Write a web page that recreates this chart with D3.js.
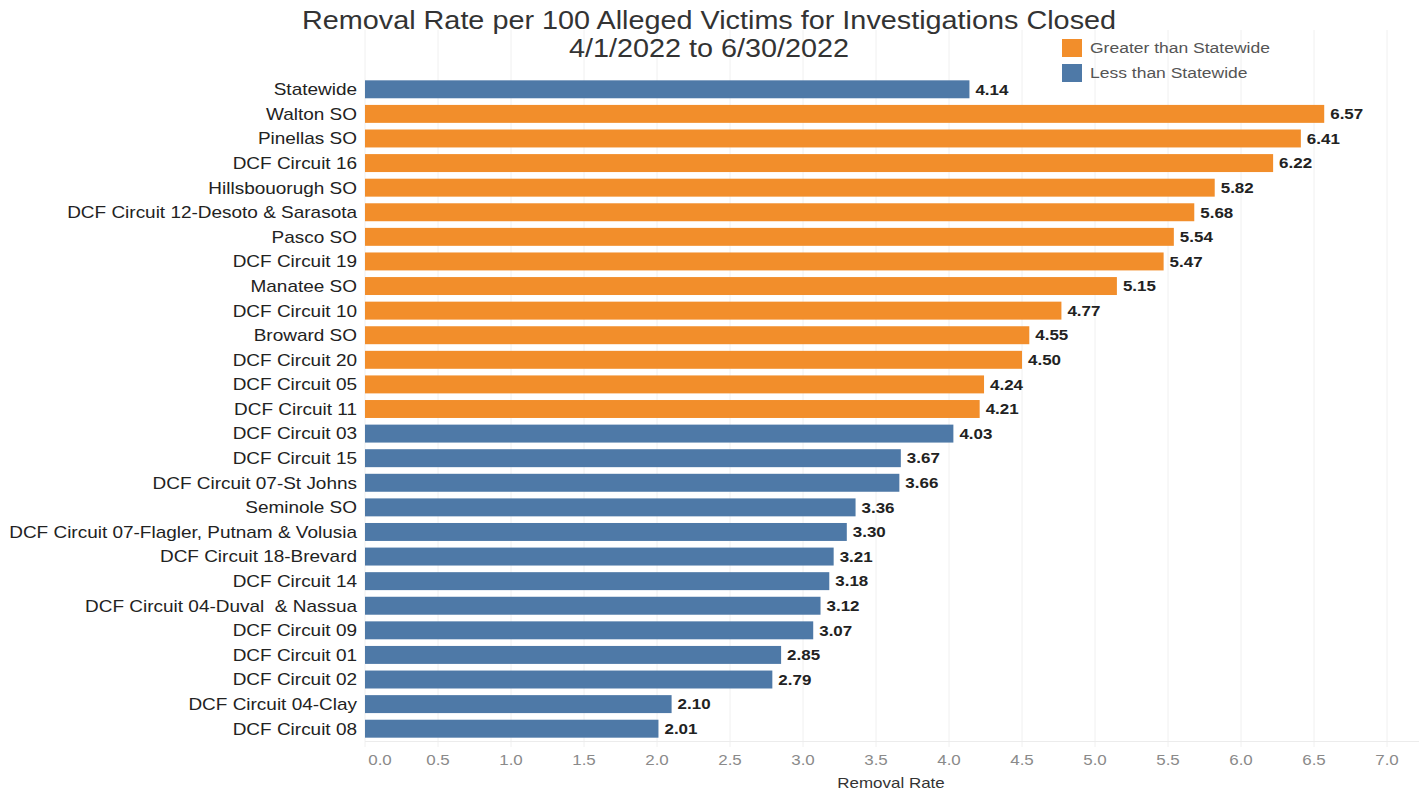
<!DOCTYPE html>
<meta charset="utf-8">
<script src="https://d3js.org/d3.v7.js"></script>
<style>
  body { margin: 0; background: #fff; }
  text { font-family: "Liberation Sans", Arial, sans-serif; white-space: pre; }
</style>
<div id="my_dataviz"></div>
<script>

// data
const categories = ["Statewide", "Walton SO", "Pinellas SO", "DCF Circuit 16", "Hillsbouorugh SO",
  "DCF Circuit 12-Desoto & Sarasota", "Pasco SO", "DCF Circuit 19", "Manatee SO", "DCF Circuit 10",
  "Broward SO", "DCF Circuit 20", "DCF Circuit 05", "DCF Circuit 11", "DCF Circuit 03", "DCF Circuit 15",
  "DCF Circuit 07-St Johns", "Seminole SO", "DCF Circuit 07-Flagler, Putnam & Volusia",
  "DCF Circuit 18-Brevard", "DCF Circuit 14", "DCF Circuit 04-Duval  & Nassua", "DCF Circuit 09",
  "DCF Circuit 01", "DCF Circuit 02", "DCF Circuit 04-Clay", "DCF Circuit 08"];
const rates = [4.14, 6.57, 6.41, 6.22, 5.82, 5.68, 5.54, 5.47, 5.15, 4.77, 4.55, 4.50, 4.24, 4.21,
  4.03, 3.67, 3.66, 3.36, 3.30, 3.21, 3.18, 3.12, 3.07, 2.85, 2.79, 2.10, 2.01];
const groups = ["Greater than Statewide", "Less than Statewide"];
const tickValues = [0, 0.5, 1, 1.5, 2, 2.5, 3, 3.5, 4, 4.5, 5, 5.5, 6, 6.5, 7];

const statewide = rates[0];
const data = categories.map((c, i) => ({
  name: c,
  value: rates[i],
  group: (i > 0 && rates[i] > statewide) ? groups[0] : groups[1]
}));

const width = 1427, height = 790;
const margin = {top: 77, right: 40, bottom: 49, left: 365};

// the source picture has its text a bit stretched sideways
const sx = 1.13;
const place = (px, py) => `translate(${px},${py}) scale(${sx},1)`;

const svg = d3.select("#my_dataviz")
  .append("svg")
  .attr("width", width)
  .attr("height", height);

const x = d3.scaleLinear()
  .domain([0, 7])
  .range([margin.left, margin.left + 146 * 7]);

const y = d3.scaleBand()
  .domain(categories)
  .range([margin.top, height - margin.bottom])
  .paddingInner(0.27)
  .paddingOuter(0.135);

const colour = d3.scaleOrdinal()
  .domain(groups)
  .range(["#F28E2B", "#4E79A7"]);

// gridlines
svg.append("g")
  .selectAll("line")
  .data(tickValues)
  .join("line")
    .attr("x1", d => x(d))
    .attr("x2", d => x(d))
    .attr("y1", 30)
    .attr("y2", height - margin.bottom + 6)
    .attr("stroke", "#f0f0f0")
    .attr("stroke-width", 1);

// axis baseline
svg.append("line")
  .attr("x1", margin.left)
  .attr("x2", width - 8)
  .attr("y1", height - margin.bottom + 0.5)
  .attr("y2", height - margin.bottom + 0.5)
  .attr("stroke", "#ececec");

// tick labels
svg.append("g")
  .selectAll("text")
  .data(tickValues)
  .join("text")
    .attr("transform", d => place(d === 0 ? x(d) + 15 : x(d), height - margin.bottom + 24))
    .attr("text-anchor", "middle")
    .style("font-size", "15px")
    .attr("fill", "#8a8a8a")
    .text(d => d3.format(".1f")(d));

// axis title
svg.append("text")
  .attr("transform", place(891, 788))
  .attr("text-anchor", "middle")
  .style("font-size", "15px")
  .attr("fill", "#333")
  .text("Removal Rate");

// bars
svg.append("g")
  .selectAll("rect")
  .data(data)
  .join("rect")
    .attr("x", x(0))
    .attr("y", d => y(d.name))
    .attr("width", d => x(d.value) - x(0))
    .attr("height", y.bandwidth())
    .attr("fill", d => colour(d.group));

// value labels
svg.append("g")
  .selectAll("text")
  .data(data)
  .join("text")
    .attr("transform", d => place(x(d.value) + 6, y(d.name) + y.bandwidth() / 2))
    .attr("dy", "0.35em")
    .style("font-size", "15px")
    .style("font-weight", "bold")
    .attr("fill", "#222")
    .text(d => d3.format(".2f")(d.value));

// category labels
svg.append("g")
  .selectAll("text")
  .data(data)
  .join("text")
    .attr("transform", d => place(margin.left - 8, y(d.name) + y.bandwidth() / 2))
    .attr("dy", "0.35em")
    .attr("text-anchor", "end")
    .style("font-size", "16.8px")
    .attr("fill", "#222")
    .text(d => d.name);

// title
const title = svg.append("g")
  .attr("text-anchor", "middle")
  .style("font-size", "25.5px")
  .attr("fill", "#333");
title.append("text").attr("transform", place(709, 29))
  .text("Removal Rate per 100 Alleged Victims for Investigations Closed");
title.append("text").attr("transform", place(709, 57))
  .text("4/1/2022 to 6/30/2022");

// legend
const legend = svg.append("g")
  .selectAll("g")
  .data(groups)
  .join("g")
    .attr("transform", (d, i) => `translate(1062, ${39 + i * 25})`);
legend.append("rect")
  .attr("width", 20)
  .attr("height", 18)
  .attr("fill", d => colour(d));
legend.append("text")
  .attr("transform", place(28, 9))
  .attr("dy", "0.35em")
  .style("font-size", "15.5px")
  .attr("fill", "#555")
  .text(d => d);

</script>
